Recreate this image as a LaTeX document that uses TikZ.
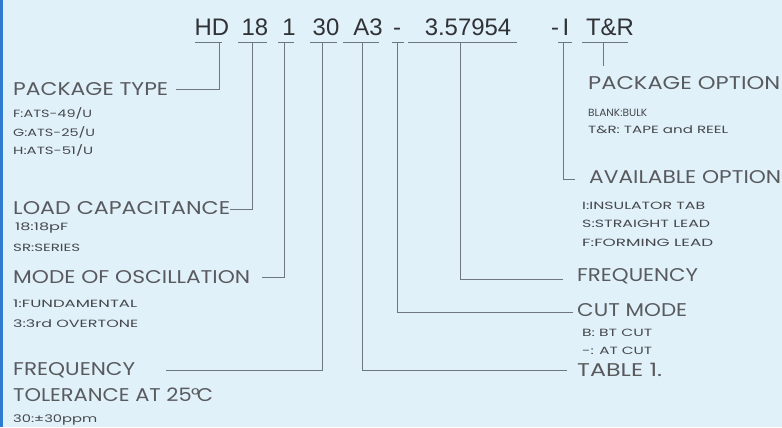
\documentclass[tikz,border=0pt]{standalone}
\usepackage{fontspec}
\usepackage{graphicx}
\setmainfont{Poppins}
\newfontfamily\hdrfont{Liberation Sans}
\definecolor{bgblue}{RGB}{225,241,250}
\definecolor{edgeblue}{RGB}{46,123,207}
\definecolor{lblgray}{RGB}{88,90,94}
\definecolor{smgray}{RGB}{70,72,76}
\definecolor{hdrgray}{RGB}{48,50,53}
\definecolor{linegray}{RGB}{110,118,126}
\newcommand\fitw[2]{\resizebox{#1bp}{\height}{#2}}
\tikzset{
  big/.style={inner sep=0, anchor=base west, text=lblgray, font=\fontsize{18.5}{20}\selectfont},
  sml/.style={inner sep=0, anchor=base west, text=smgray, font=\fontsize{10.5}{12}\selectfont},
  hdr/.style={inner sep=0, anchor=base, text=hdrgray, font=\hdrfont\fontsize{24}{26}\selectfont},
  lead/.style={draw=linegray, line width=0.9bp},
  uline/.style={draw=linegray, line width=0.9bp},
}
\begin{document}
\begin{tikzpicture}[x=1bp,y=-1bp]
\fill[bgblue] (0,0) rectangle (782,427);
\useasboundingbox (0,0) rectangle (782,427);
\fill[edgeblue] (0,0) rectangle (3,427);

% header tokens
\node[hdr] (hd)  at (212,35) {HD};
\node[hdr] (n18) at (255,35) {18};
\node[hdr] (n1)  at (289,35) {1};
\node[hdr] (n30) at (326,35) {30};
\node[hdr] (a3)  at (368,35) {A3};
\node[hdr] (d1)  at (397,35) {-};
\node[hdr] (fq)  at (468,35) {3.57954};
\node[hdr] (d2)  at (555,35) {-};
\node[hdr] (ii)  at (566,35) {I};
\node[hdr] (tr)  at (610,35) {T\&R};

% underlines
\draw[uline] (195,42) -- (222,42);
\draw[uline] (238,42) -- (267,42);
\draw[uline] (278,42) -- (294,42);
\draw[uline] (310,42) -- (337,42);
\draw[uline] (343,42) -- (379,42);
\draw[uline] (392,42) -- (404,42);
\draw[uline] (408,42) -- (517,42);
\draw[uline] (558,42) -- (572,42);
\draw[uline] (582,42) -- (628,42);

% left labels
\node[big] (ptype) at (13,95.5) {\fitw{155}{PACKAGE TYPE}};
\node[sml] (pt1) at (13,117) {\fitw{79}{F:ATS-49/U}};
\node[sml] (pt2) at (13,136) {\fitw{82}{G:ATS-25/U}};
\node[sml] (pt3) at (13,154) {\fitw{80}{H:ATS-51/U}};

\node[big] (load) at (13,214.5) {\fitw{217}{LOAD CAPACITANCE}};
\node[sml] (ld1) at (15,230) {\fitw{53}{18:18pF}};
\node[sml] (ld2) at (13,251) {\fitw{67}{SR:SERIES}};

\node[big] (mode) at (13,283.5) {\fitw{237}{MODE OF OSCILLATION}};
\node[sml] (md1) at (13,307) {\fitw{124}{1:FUNDAMENTAL}};
\node[sml] (md2) at (13,327) {\fitw{125}{3:3rd OVERTONE}};

\node[big] (ftol1) at (13,375.5) {\fitw{122}{FREQUENCY}};
\node[big] (ftol2) at (13,401.5) {\fitw{200}{TOLERANCE AT 25\kern-0.5pt°\kern-2.5pt C}};
\node[sml] (ft1) at (13,422) {\fitw{84}{30:±30ppm}};

% right labels
\node[big] (popt) at (588,89) {\fitw{192}{PACKAGE OPTION}};
\node[sml] (po1) at (588,116) {\fitw{59}{BLANK:BULK}};
\node[sml] (po2) at (588,133) {\fitw{140}{T\&R: TAPE and REEL}};

\node[big] (aopt) at (589,183.5) {\fitw{192}{AVAILABLE OPTION}};
\node[sml] (ao1) at (582,209) {\fitw{123}{I:INSULATOR TAB}};
\node[sml] (ao2) at (582,227) {\fitw{128}{S:STRAIGHT LEAD}};
\node[sml] (ao3) at (582,246) {\fitw{131}{F:FORMING LEAD}};

\node[big] (freq) at (577,281.5) {\fitw{121}{FREQUENCY}};

\node[big] (cut) at (577,316.5) {\fitw{110}{CUT MODE}};
\node[sml] (ct1) at (582,336) {\fitw{70}{B: BT CUT}};
\node[sml] (ct2) at (582,354) {\fitw{70}{-: AT CUT}};

\node[big] (tab) at (577,376.5) {\fitw{85}{TABLE 1.}};

% connector end points
\coordinate (hd-d)  at (219,42);  \coordinate (ptype-e) at (176,89);
\coordinate (n18-d) at (252,42);  \coordinate (load-e)  at (230,209);
\coordinate (n1-d)  at (284,42);  \coordinate (mode-e)  at (262,277);
\coordinate (n30-d) at (322,42);  \coordinate (ftol-e)  at (166,370);
\coordinate (a3-d)  at (362,42);  \coordinate (tab-e)   at (567,370);
\coordinate (d1-d)  at (397,42);  \coordinate (cut-e)   at (573,312);
\coordinate (fq-d)  at (460,42);  \coordinate (freq-e)  at (563,279);
\coordinate (ii-d)  at (563,42);  \coordinate (aopt-e)  at (575,179);
\coordinate (tr-d)  at (603,42);  \coordinate (popt-e)  at (603,66);

\draw[lead] (hd-d)  |- (ptype-e);
\draw[lead] (n18-d) |- (load-e);
\draw[lead] (n1-d)  |- (mode-e);
\draw[lead] (n30-d) |- (ftol-e);
\draw[lead] (a3-d)  |- (tab-e);
\draw[lead] (d1-d)  |- (cut-e);
\draw[lead] (fq-d)  |- (freq-e);
\draw[lead] (ii-d)  |- (aopt-e);
\draw[lead] (tr-d)  -- (popt-e);
\end{tikzpicture}
\end{document}
